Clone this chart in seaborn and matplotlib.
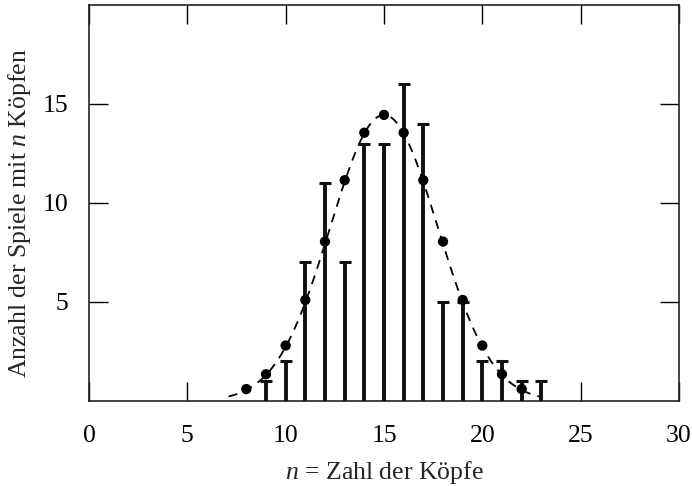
import matplotlib
matplotlib.use("Agg")
import matplotlib.pyplot as plt
import seaborn as sns
import pandas as pd
import numpy as np

sns.set_style("ticks")
plt.rcParams["font.family"] = ["Liberation Serif", "DejaVu Serif"]
plt.rcParams["mathtext.fontset"] = "custom"
plt.rcParams["mathtext.rm"] = "Liberation Serif"
plt.rcParams["mathtext.it"] = "Liberation Serif:italic"

# observed counts (bars)
bar_n = [9, 10, 11, 12, 13, 14, 15, 16, 17, 18, 19, 20, 21, 22, 23]
bar_count = [1, 2, 7, 11, 7, 13, 13, 16, 14, 5, 5, 2, 2, 1, 1]

# expected counts (dots)
dot_n = [8, 9, 10, 11, 12, 13, 14, 15, 16, 17, 18, 19, 20, 21, 22]
dot_count = [0.6, 1.35, 2.8, 5.1, 8.05, 11.15, 13.55, 14.45, 13.55, 11.15, 8.05, 5.1, 2.8, 1.35, 0.6]

# dashed normal curve, parameters
curve_mu, curve_sigma, curve_peak = 15.0, 2.74, 14.45
curve_from, curve_to = 7.1, 22.9

xs = np.linspace(curve_from, curve_to, 300)
curve = pd.DataFrame({"n": xs,
                      "y": curve_peak * np.exp(-0.5 * ((xs - curve_mu) / curve_sigma) ** 2)})
dots = pd.DataFrame({"n": dot_n, "y": dot_count})

fig = plt.figure(figsize=(6.92, 4.86), dpi=100)
ax = fig.add_axes([0.1286, 0.175, 0.8526, 0.8147])

sns.lineplot(data=curve, x="n", y="y", ax=ax, color="black", lw=1.3,
             linestyle=(0, (5, 4)), zorder=2)
ax.vlines(bar_n, 0, bar_count, color="#111111", lw=2.8, zorder=3)
ax.plot(bar_n, bar_count, ls="none", marker="_", ms=9, mew=2.2,
        color="#111111", zorder=3)
sns.scatterplot(data=dots, x="n", y="y", ax=ax, color="black", s=55,
                edgecolor="none", zorder=4)

ax.set_xlim(0, 30)
ax.set_ylim(0, 20)
ax.set_xticks([0, 5, 10, 15, 20, 25, 30])
ax.set_yticks([5, 10, 15])
ax.tick_params(direction="in", length=13.5, width=1, top=True, right=True,
               labelsize=18.5, colors="black")
ax.tick_params(axis="x", pad=17)
ax.tick_params(axis="y", pad=15)
for s in ax.spines.values():
    s.set_linewidth(1.2)
    s.set_color("#222222")

ax.set_xlabel("$n$ = Zahl der Köpfe", fontsize=18.5, labelpad=9)
ax.set_ylabel("Anzahl der Spiele mit $n$ Köpfen", fontsize=18.5, labelpad=7)
ax.yaxis.label.set_y(0.475)

fig.savefig("out.png", dpi=100)
